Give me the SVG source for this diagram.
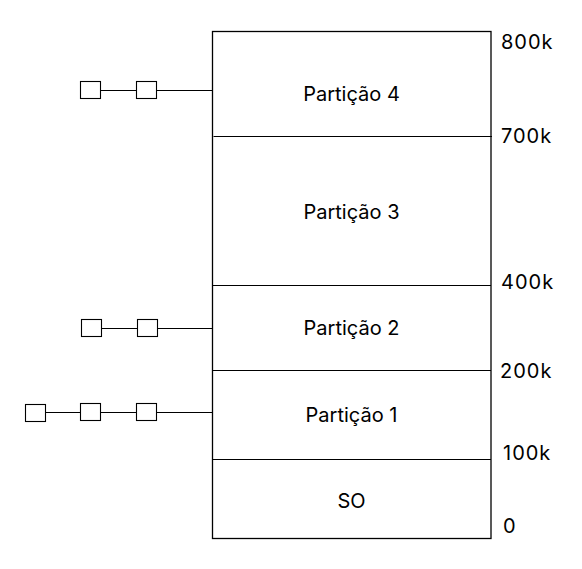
<svg xmlns="http://www.w3.org/2000/svg" width="582" height="569" viewBox="0 0 582 569">
<style>
.box{fill:none;stroke:#000;stroke-width:1.3}
.div{stroke:#000;stroke-width:1.2}
.sq{fill:#fff;stroke:#000;stroke-width:1.1}
.ln{stroke:#000;stroke-width:1.1;fill:none}
.lbl{font-family:Inter,"Liberation Sans",sans-serif;font-size:20px;fill:#000;text-anchor:middle}
.addr{font-family:Inter,"Liberation Sans",sans-serif;font-size:20px;letter-spacing:1px;fill:#000}
</style>
<rect width="582" height="569" fill="#fff"/>
<g id="memory">
<rect class="box" x="212.5" y="31.5" width="278.5" height="507"/>
</g>
<g id="p4"><text class="lbl" x="351.5" y="101">Partição 4</text></g>
<line class="div" x1="213.5" y1="136.5" x2="492" y2="136.5"/>
<g id="p3"><text class="lbl" x="351.5" y="219">Partição 3</text></g>
<line class="div" x1="212.5" y1="285.5" x2="491" y2="285.5"/>
<g id="p2"><text class="lbl" x="351.5" y="335">Partição 2</text></g>
<line class="div" x1="212.5" y1="370.5" x2="491" y2="370.5"/>
<g id="p1"><text class="lbl" x="351.5" y="422">Partição 1</text></g>
<line class="div" x1="212.5" y1="459.5" x2="491" y2="459.5"/>
<g id="so"><text class="lbl" x="351.5" y="508">SO</text></g>
<g id="addresses">
<text class="addr" x="501" y="49">800k</text>
<text class="addr" x="501" y="143">700k</text>
<text class="addr" x="501" y="289">400k</text>
<text class="addr" x="500" y="378">200k</text>
<text class="addr" x="503" y="460">100k</text>
<text class="addr" x="503" y="533">0</text>
</g>
<g id="connectors">
<line class="ln" x1="100.5" y1="90.5" x2="136.5" y2="90.5"/>
<line class="ln" x1="156.5" y1="90.5" x2="212.5" y2="90.5"/>
<line class="ln" x1="101.5" y1="328.5" x2="137.5" y2="328.5"/>
<line class="ln" x1="157.5" y1="328.5" x2="212.5" y2="328.5"/>
<line class="ln" x1="45.5" y1="412.5" x2="80.5" y2="412.5"/>
<line class="ln" x1="100.5" y1="412.5" x2="136.5" y2="412.5"/>
<line class="ln" x1="156.5" y1="412.5" x2="212.5" y2="412.5"/>
</g>
<g id="queue4">
<rect class="sq" x="80.5" y="81.5" width="20" height="17"/>
<rect class="sq" x="136.5" y="81.5" width="20" height="17"/>
</g>
<g id="queue2">
<rect class="sq" x="81.5" y="319.5" width="20" height="17"/>
<rect class="sq" x="137.5" y="319.5" width="20" height="17"/>
</g>
<g id="queue1">
<rect class="sq" x="25.5" y="404.5" width="20" height="17"/>
<rect class="sq" x="80.5" y="403.5" width="20" height="17"/>
<rect class="sq" x="136.5" y="403.5" width="20" height="17"/>
</g>
</svg>
